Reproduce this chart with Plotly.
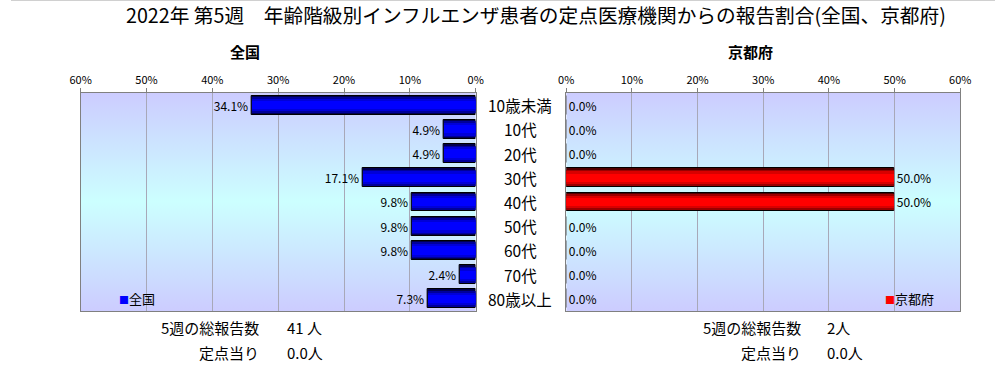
import base64
import plotly.graph_objects as go

# ---- data ----
categories = ["10歳未満", "10代", "20代", "30代", "40代", "50代", "60代", "70代", "80歳以上"]
zenkoku = [34.1, 4.9, 4.9, 17.1, 9.8, 9.8, 9.8, 2.4, 7.3]
kyoto = [0.0, 0.0, 0.0, 50.0, 50.0, 0.0, 0.0, 0.0, 0.0]
tick_vals = [0, 10, 20, 30, 40, 50, 60]
tick_text = ["0%", "10%", "20%", "30%", "40%", "50%", "60%"]
title_text = "2022年 第5週　年齢階級別インフルエンザ患者の定点医療機関からの報告割合(全国、京都府)"
zenkoku_total = "41 人"
zenkoku_per = "0.0人"
kyoto_total = "2人"
kyoto_per = "0.0人"

W, H = 1006, 365
FONT = "Noto Sans CJK JP"
ypos = list(range(len(categories)))
SX, OX = 0.983, 9.0  # horizontal correction of the rendered picture


def px(x):
    return ((x - OX) / SX) / W


def pw(w):
    return (w / SX) / W


def py(y):
    return 1 - y / H


fig = go.Figure()

blue_layers = [(0.78, "#000050"), (0.66, "#00009A"), (0.52, "#0000D8"), (0.34, "#0000FF")]
red_layers = [(0.78, "#500000"), (0.66, "#9A0000"), (0.52, "#D80000"), (0.34, "#FF0000")]

for i, (w, c) in enumerate(blue_layers):
    fig.add_trace(go.Bar(
        x=zenkoku, y=ypos, orientation="h", width=w,
        marker=dict(color=c, line=dict(color="black", width=1 if i == 0 else 0)),
        text=[f"{v:.1f}%" for v in zenkoku] if i == 0 else None,
        textposition="outside" if i == 0 else "none",
        textfont=dict(size=12, color="black", family=FONT),
        cliponaxis=False, showlegend=False, xaxis="x", yaxis="y", name="全国"))

for i, (w, c) in enumerate(red_layers):
    fig.add_trace(go.Bar(
        x=kyoto, y=ypos, orientation="h", width=w,
        marker=dict(color=c, line=dict(color="black", width=1 if i == 0 else 0)),
        text=[f"{v:.1f}%" for v in kyoto] if i == 0 else None,
        textposition="outside" if i == 0 else "none",
        textfont=dict(size=12, color="black", family=FONT),
        cliponaxis=False, showlegend=False, xaxis="x2", yaxis="y2", name="京都府"))

X1L, X1R, X2L, X2R, YT, YB = 79, 476, 567, 963, 93, 311
xdom1 = [px(X1L), px(X1R)]
xdom2 = [px(X2L), px(X2R)]
ydom = [py(YB), py(YT)]

common_x = dict(side="top", tickvals=tick_vals, ticktext=tick_text, showgrid=True,
                gridcolor="#A8A8B8", gridwidth=1, showline=True, linecolor="#808080",
                mirror=True, ticks="outside", ticklen=4, tickcolor="#808080",
                tickfont=dict(size=11, color="black", family=FONT), zeroline=False,
                fixedrange=True)
common_y = dict(range=[len(categories) - 0.5, -0.5], showticklabels=False, showgrid=False,
                zeroline=False, showline=True, linecolor="#808080", mirror=True, ticks="",
                domain=ydom, fixedrange=True)

fig.update_layout(
    width=W, height=H, autosize=False,
    margin=dict(l=0, r=0, t=0, b=0, pad=0),
    paper_bgcolor="white", plot_bgcolor="rgba(0,0,0,0)",
    barmode="overlay", bargap=0,
    font=dict(family=FONT, color="black"),
    xaxis=dict(domain=xdom1, range=[60, 0], anchor="y", **common_x),
    yaxis=dict(anchor="x", **common_y),
    xaxis2=dict(domain=xdom2, range=[0, 60], anchor="y2", **common_x),
    yaxis2=dict(anchor="x2", **common_y),
    showlegend=False,
)

svg = ('<svg xmlns="http://www.w3.org/2000/svg" width="100" height="100" preserveAspectRatio="none">'
       '<defs><linearGradient id="g" x1="0" y1="0" x2="0" y2="1">'
       '<stop offset="0" stop-color="#CCCCFF"/><stop offset="0.5" stop-color="#CCFFFF"/>'
       '<stop offset="1" stop-color="#CCCCFF"/></linearGradient></defs>'
       '<rect width="100" height="100" fill="url(#g)"/></svg>')
src = "data:image/svg+xml;base64," + base64.b64encode(svg.encode()).decode()
images = []
for xl, xr in ((X1L, X1R), (X2L, X2R)):
    images.append(dict(source=src, xref="paper", yref="paper", x=px(xl), y=py(YT),
                       sizex=pw(xr - xl), sizey=(YB - YT) / H, sizing="stretch",
                       xanchor="left", yanchor="top", layer="below"))
fig.update_layout(images=images)

ann = []
ann.append(dict(text=title_text, x=px(537), y=py(15), xref="paper", yref="paper",
                showarrow=False, font=dict(size=19.7, family=FONT), xanchor="center", yanchor="middle"))
ann.append(dict(text="<b>全国</b>", x=px(244), y=py(52), xref="paper", yref="paper",
                showarrow=False, font=dict(size=15, family=FONT), xanchor="center", yanchor="middle"))
ann.append(dict(text="<b>京都府</b>", x=px(752), y=py(52), xref="paper", yref="paper",
                showarrow=False, font=dict(size=15, family=FONT), xanchor="center", yanchor="middle"))
for i, c in enumerate(categories):
    ann.append(dict(text=c, x=px(521), y=i, xref="paper", yref="y", showarrow=False,
                    font=dict(size=15.5, family=FONT), xanchor="center", yanchor="middle"))
ann.append(dict(text='<span style="color:#0000FF;font-size:10px">■</span>全国', x=px(116), y=py(298),
                xref="paper", yref="paper", showarrow=False, font=dict(size=13, family=FONT),
                xanchor="left", yanchor="middle"))
ann.append(dict(text='<span style="color:#FF0000;font-size:10px">■</span>京都府', x=px(885), y=py(298),
                xref="paper", yref="paper", showarrow=False, font=dict(size=13, family=FONT),
                xanchor="left", yanchor="middle"))
for lab_x, val_x, total, per in ((260, 284, zenkoku_total, zenkoku_per),
                                  (805, 827, kyoto_total, kyoto_per)):
    ann.append(dict(text="5週の総報告数", x=px(lab_x), y=py(327), xref="paper", yref="paper",
                    showarrow=False, font=dict(size=15, family=FONT), xanchor="right", yanchor="middle"))
    ann.append(dict(text=total, x=px(val_x), y=py(327), xref="paper", yref="paper",
                    showarrow=False, font=dict(size=15, family=FONT), xanchor="left", yanchor="middle"))
    ann.append(dict(text="定点当り", x=px(lab_x), y=py(352), xref="paper", yref="paper",
                    showarrow=False, font=dict(size=15, family=FONT), xanchor="right", yanchor="middle"))
    ann.append(dict(text=per, x=px(val_x), y=py(352), xref="paper", yref="paper",
                    showarrow=False, font=dict(size=15, family=FONT), xanchor="left", yanchor="middle"))
fig.update_layout(annotations=ann)

fig.add_shape(type="line", xref="paper", yref="paper", x0=0, x1=1, y0=1, y1=1,
              line=dict(color="#D0D0D0", width=2))

fig.write_html("out.html",
               config={"responsive": False, "displayModeBar": False},
               post_script="document.body.style.margin='0';document.body.style.padding='0';"
                           "document.documentElement.style.overflow='hidden';"
                           "document.body.style.overflow='hidden';")
